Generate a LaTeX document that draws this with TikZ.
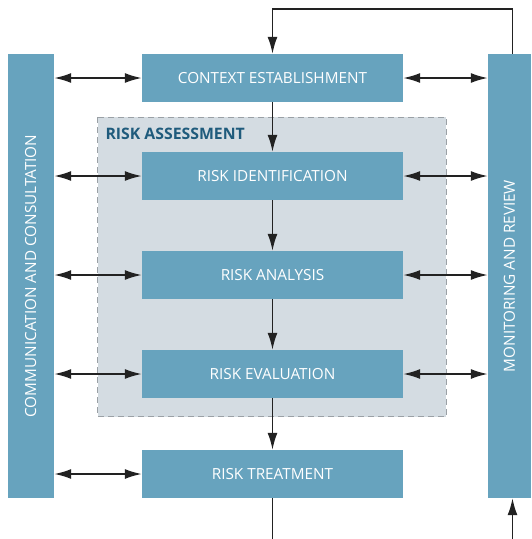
\documentclass[tikz,border=0pt]{standalone}
\usepackage{fontspec}
\setmainfont{Open Sans}
\usetikzlibrary{arrows.meta}
\usetikzlibrary{positioning}
\tikzset{>={Latex[length=17pt,width=10pt]}}
\definecolor{boxblue}{HTML}{67A3BE}
\definecolor{zonegray}{HTML}{D4DCE2}
\definecolor{zoneline}{HTML}{9AA0A5}
\definecolor{titleblue}{HTML}{1F5B7C}
\definecolor{arrowdark}{HTML}{222222}
\tikzset{
    stage/.style={fill=boxblue, text=white, inner sep=0pt,
        minimum width=261pt, minimum height=48pt,
        font=\fontsize{15.3}{17}\selectfont},
    pillar/.style={fill=boxblue, text=white, inner sep=0pt, rotate=90,
        minimum width=444pt, font=\fontsize{15.3}{17}\selectfont},
    link/.style={draw=arrowdark, line width=1.7pt},
}

\begin{document}
\begin{tikzpicture}[x=1pt, y=-1pt] % risk management process
	\useasboundingbox (0,0) rectangle (531,539);
	% risk assessment zone
	\draw[fill=zonegray, draw=zoneline, line width=1pt, dash pattern=on 6pt off 4pt] (97.5,117) rectangle (446,416.5);
	\node[anchor=west, text=titleblue, font=\bfseries\fontsize{15.8}{17}\selectfont] (zone) at (102,134) {RISK ASSESSMENT};
	% side columns
	\node[pillar, minimum height=46.5pt] (comm) at (30.75,276) {COMMUNICATION AND CONSULTATION};
	\node[pillar, minimum height=43pt] (monitor) at (509.5,276) {MONITORING AND REVIEW};
	% process steps
	\node[stage] (ctx) at (272.5,78) {CONTEXT ESTABLISHMENT};
	\node[stage] (ident) at (272.5,176) {RISK IDENTIFICATION};
	\node[stage] (anal) at (272.5,275) {RISK ANALYSIS};
	\node[stage] (eval) at (272.5,374) {RISK EVALUATION};
	\node[stage] (treat) at (272.5,474) {RISK TREATMENT};
	% loose ends
	\coordinate (loopR) at (512.5,9);
	\coordinate (floorL) at (272.5,539);
	\coordinate (floorR) at (512.5,539);
	% flow
	\draw[link, ->] (ctx) -- (ident);
	\draw[link, ->] (ident) -- (anal);
	\draw[link, ->] (anal) -- (eval);
	\draw[link, ->] (eval) -- (treat);
	\draw[link] (treat) -- (floorL);
	\draw[link, ->] (floorR) -- (monitor.west -| floorR);
	\draw[link, ->] (monitor.east -| loopR) -- (loopR) -| (ctx);
	% exchanges with the columns
	\foreach \s in {ctx, ident, anal, eval, treat}
		\draw[link, <->] (comm.south |- \s) -- (\s);
	\foreach \s in {ctx, ident, anal, eval}
		\draw[link, <->] (\s) -- (monitor.north |- \s);
\end{tikzpicture}
\end{document}
